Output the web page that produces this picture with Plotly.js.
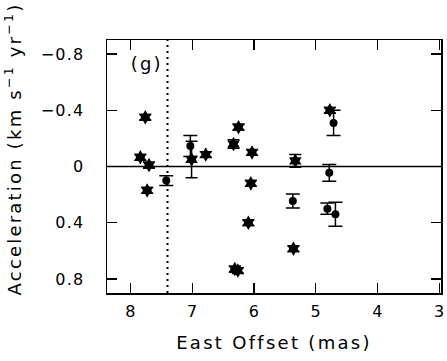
<!DOCTYPE html>
<html>
<head>
<meta charset="utf-8">
<script src="https://cdn.plot.ly/plotly-3.0.1.min.js"></script>
<style>
html,body{margin:0;padding:0;background:#fff;}
#chart{width:447px;height:361px;}
#chart .xtitle{letter-spacing:2.3px;}
#chart .ytick text{letter-spacing:1.2px;}
#chart .annotation-text{letter-spacing:2.2px;}
</style>
</head>
<body>
<div id="chart"></div>
<script>
// Star-symbol measurements
var starX = [7.76, 7.84, 7.70, 7.73, 6.25, 6.33, 6.03, 6.05, 6.09, 6.31, 6.26, 5.36, 4.77, 5.33, 6.78, 7.01];
var starY = [-0.35, -0.065, -0.01, 0.17, -0.28, -0.16, -0.10, 0.12, 0.40, 0.73, 0.74, 0.585, -0.40, -0.04, -0.085, -0.05];
var starErr = [0.02, 0.02, 0.02, 0.02, 0.02, 0.03, 0.02, 0.02, 0.02, 0.02, 0.02, 0.02, 0.02, 0.045, 0.02, 0.13];
// Circle-symbol measurements
var circX = [7.42, 7.03, 5.37, 4.78, 4.81, 4.68, 4.71];
var circY = [0.10, -0.146, 0.245, 0.045, 0.30, 0.34, -0.31];
var circErr = [0.035, 0.075, 0.05, 0.06, 0.04, 0.085, 0.09];
// Axis ticks
var xTicks = [8, 7, 6, 5, 4, 3];
var yTicks = [-0.8, -0.4, 0, 0.4, 0.8];
var yTickText = ["\u22120.8", "\u22120.4", "0", "0.4", "0.8"];
var dividerX = 7.4;
var panelLabel = "(g)";
var xTitle = "East Offset (mas)";
var yTitle = "Acceleration (km s<sup>\u22121</sup> yr<sup>\u22121</sup>)";

var font = "DejaVu Sans, sans-serif";

var traces = [
  {
    x: starX, y: starY, type: "scatter", mode: "markers",
    marker: {symbol: "hexagram", size: 11, color: "#000", line: {width: 0}},
    error_y: {type: "data", array: starErr, visible: true, color: "#000", thickness: 1.5, width: 6},
    hoverinfo: "skip", showlegend: false
  },
  {
    x: circX, y: circY, type: "scatter", mode: "markers",
    marker: {symbol: "circle", size: 8, color: "#000", line: {width: 0}},
    error_y: {type: "data", array: circErr, visible: true, color: "#000", thickness: 1.5, width: 7},
    hoverinfo: "skip", showlegend: false
  }
];

var axisCommon = {
  showline: true, linecolor: "#000", linewidth: 1.5, mirror: "ticks",
  ticks: "inside", ticklen: 10, tickwidth: 1.2, tickcolor: "#000",
  showgrid: false, zeroline: false,
  tickfont: {family: font, size: 16, color: "#000"}
};

var layout = {
  width: 447, height: 361,
  margin: {l: 107, r: 6, t: 40, b: 68},
  paper_bgcolor: "#fff", plot_bgcolor: "#fff",
  xaxis: Object.assign({}, axisCommon, {
    range: [8.38, 2.97], tickmode: "array", tickvals: xTicks,
    ticktext: xTicks.map(String), ticklabelstandoff: 3,
    title: {text: xTitle, font: {family: font, size: 18, color: "#000"}, standoff: 16}
  }),
  yaxis: Object.assign({}, axisCommon, {
    range: [0.9, -0.9], tickmode: "array", tickvals: yTicks, ticktext: yTickText,
    ticklabelstandoff: 18
  }),
  shapes: [
    {type: "line", xref: "paper", x0: 0, x1: 1, yref: "y", y0: 0, y1: 0, line: {color: "#000", width: 1.5}},
    {type: "line", xref: "x", x0: dividerX, x1: dividerX, yref: "paper", y0: 0, y1: 1, line: {color: "#000", width: 2, dash: "2px,4px"}}
  ],
  annotations: [
    {xref: "x", yref: "y", x: 7.74, y: -0.73, text: panelLabel, showarrow: false,
     font: {family: font, size: 18, color: "#000"}},
    {xref: "paper", yref: "paper", x: 0, y: 0.57, xshift: -94, xanchor: "center", yanchor: "middle",
     text: yTitle, textangle: -90,
     showarrow: false, font: {family: font, size: 18, color: "#000"}}
  ]
};

Plotly.newPlot("chart", traces, layout, {staticPlot: true, displayModeBar: false});
</script>
</body>
</html>
